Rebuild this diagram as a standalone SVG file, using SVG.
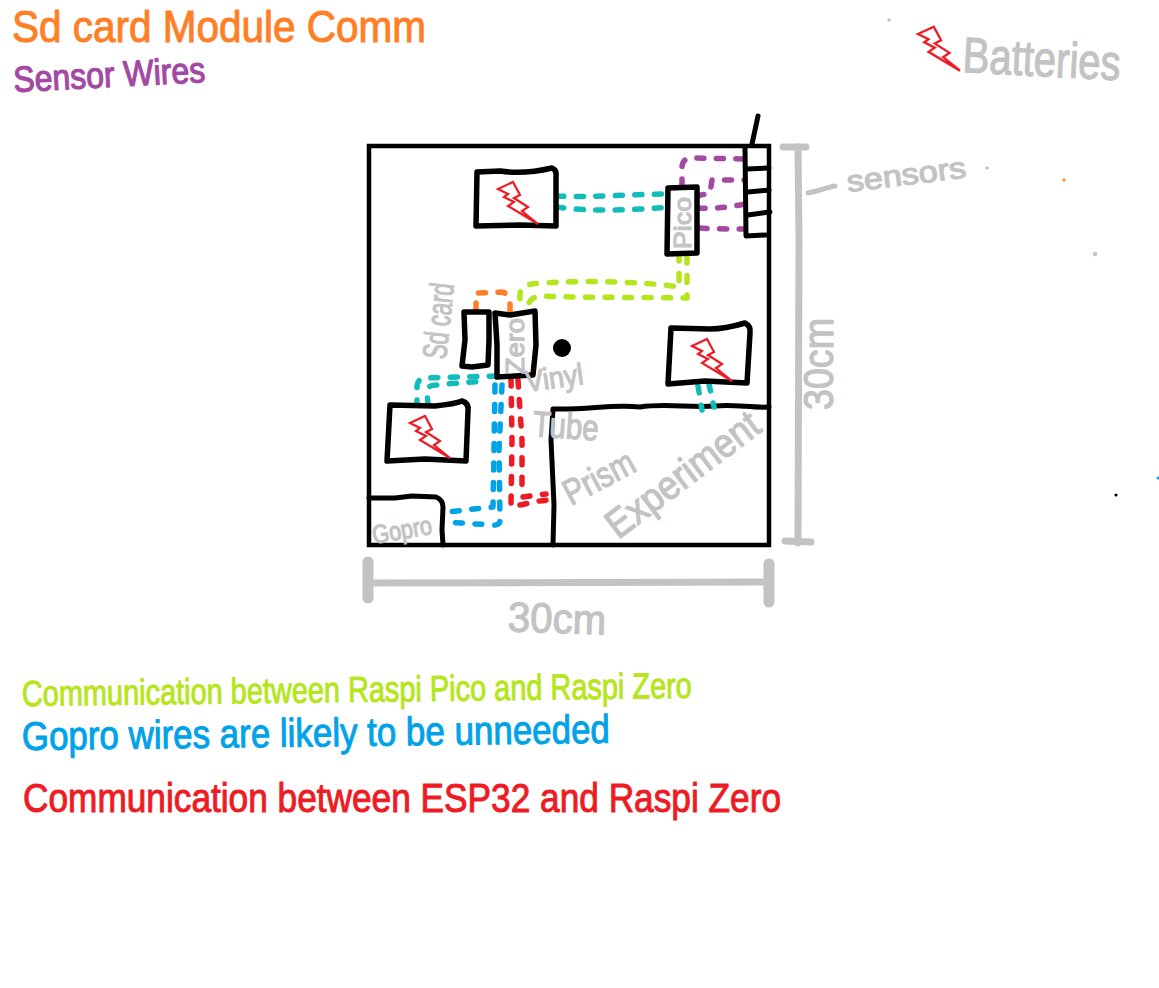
<svg xmlns="http://www.w3.org/2000/svg" xmlns:xlink="http://www.w3.org/1999/xlink" width="1159" height="988" viewBox="0 0 1159 988">
<style>
text{font-family:"Liberation Sans",Arial,sans-serif;stroke-linejoin:round;stroke-linecap:round}
.box{fill:#fff;stroke:#000;stroke-width:5.5;stroke-linejoin:round;stroke-linecap:round}
.wall{fill:none;stroke:#000;stroke-width:5;stroke-linejoin:round;stroke-linecap:round}
.bolt{fill:#fff;stroke:#ed1c24;stroke-width:2.2;stroke-linejoin:miter}
.w{fill:none;stroke-width:5.5;stroke-linecap:round;stroke-linejoin:round;stroke-dasharray:7 12.5}
.teal{stroke:#12bdb9}.purple{stroke:#a349a4}.lime{stroke:#b5e61d}.orange{stroke:#ff7f27}.blue{stroke:#00a2e8}.red{stroke:#ed1c24}
.dim{fill:none;stroke:#c3c3c3;stroke-width:7;stroke-linecap:round;stroke-linejoin:round}
.g{fill:#c3c3c3;stroke:#c3c3c3;stroke-width:1.2}
.to{fill:#ff7f27;stroke:#ff7f27;stroke-width:1}
.tp{fill:#a349a4;stroke:#a349a4;stroke-width:1.2}
.tl{fill:#b5e61d;stroke:#b5e61d;stroke-width:1}
.tb{fill:#00a2e8;stroke:#00a2e8;stroke-width:1}
.tr{fill:#ed1c24;stroke:#ed1c24;stroke-width:1}
</style>
<defs>
<polygon id="bolt" class="bolt" points="0,0 15,-7 22,6 16,9 30,18 24,22 40,35 10,17 16,13 6,8 10,5"/>
</defs>
<rect width="1159" height="988" fill="#fff"/>

<g id="enclosure">
<rect x="369" y="146" width="400" height="399" fill="#fff" stroke="#000" stroke-width="4.5"/>
<path class="wall" d="M553,545 L554,505 L551,440 L553,409 C590,410 610,404 640,407 C665,403 690,408 715,406 C735,404 750,408 769,407"/>
<path class="wall" d="M369,498 L395,498 L412,496 L436,497 Q443,500 443,507 L442,530 L443,545"/>
<path class="wall" d="M758,116 L752,144"/>
</g>

<g id="connectors">
<path class="w teal" d="M557,196 C590,198 630,194 672,194"/>
<path class="w teal" d="M557,207 C590,212 630,210 672,207"/>
<path class="w purple" d="M682,186 L682,168 Q682,158 692,158 L745,159"/>
<path class="w purple" d="M697,196 L710,193 L712,180 L745,180"/>
<path class="w purple" d="M698,208 C715,209 730,207 745,204"/>
<path class="w purple" d="M700,228 C715,229 730,229 743,229"/>
<path class="w lime" d="M679,254 L679,287 C640,281 570,280 532,284 Q520,286 520,295 L520,311"/>
<path class="w lime" d="M687,256 L687,298 C640,297 590,298 540,296 Q528,298 528,308 L528,313"/>
<path class="w orange" d="M476,310 L476,293 L502,292 Q510,294 510,304 L510,314"/>
<path class="w teal" d="M417,407 L417,386 Q418,378 426,378 L495,376"/>
<path class="w teal" d="M428,405 L427,391 Q428,385 436,385 C460,383 475,381 488,382"/>
<path class="w blue" d="M495,385 L494,450 L493,507 L447,512"/>
<path class="w blue" d="M502,385 L499,450 L500,520 Q500,526 492,525 L445,522"/>
<path class="w red" d="M511,379 L512,440 L511,505"/>
<path class="w red" d="M518,380 L522,440 L522,488"/>
<path class="w red" d="M520,505 C530,503 545,499 555,500"/>
<path class="w red" d="M523,497 L546,494"/>
<path class="w teal" d="M698,386 L702,410"/>
<path class="w teal" d="M709,384 L714,407"/>
</g>

<g id="battery-top"><path class="box" d="M477,172 L500,171 C520,174 535,172 552,168 Q557,170 556,176 L556,226 L520,225 L476,226 Z"/><use xlink:href="#bolt" href="#bolt" x="498" y="189"/></g>
<g id="battery-left"><path class="box" d="M390,405 L435,406 C445,405 455,404 462,401 Q469,403 468,411 L466,461 L425,459 L387,461 Z"/><use xlink:href="#bolt" href="#bolt" x="410" y="423"/></g>
<g id="battery-right"><path class="box" d="M671,328 L710,329 C725,329 735,326 745,323 Q751,326 750,333 L747,383 L705,381 L668,384 Z"/><use xlink:href="#bolt" href="#bolt" x="692" y="346"/></g>
<g id="sd-module"><path class="box" d="M464,312 L489,312 L489,340 L488,365 L472,367 L462,366 L465,340 Z"/></g>
<g id="raspi-zero"><path class="box" d="M495,313 L510,315 L535,311 L536,345 L533,375 L515,376 L497,377 L497,345 Z"/>
<text class="g" font-size="26" text-anchor="middle" textLength="56" lengthAdjust="spacingAndGlyphs" transform="translate(524,346) rotate(-90)">Zero</text></g>
<g id="raspi-pico"><path class="box" d="M668,188 L697,187 L697,253 L667,254 Z"/>
<text class="g" font-size="24" text-anchor="middle" textLength="52" lengthAdjust="spacingAndGlyphs" transform="translate(691,223) rotate(-90)">Pico</text></g>
<g id="sensors">
<path class="wall" d="M745,148 L746,236 L766,235"/>
<path class="wall" d="M747,169 L769,168 M748,192 L769,190 M748,215 L770,212"/>
</g>
<g id="black-dot"><circle cx="562" cy="348" r="9" fill="#000"/></g>

<g id="dimensions">
<path class="dim" d="M369,583 L770,582"/>
<path class="dim" style="stroke-width:11" d="M368,562 L368,598 M769,564 L769,602"/>
<path class="dim" d="M798,147 L799,240 L798,543"/>
<path class="dim" d="M783,147 L806,147 M785,541 L811,542"/>
<path class="dim" style="stroke-width:5" d="M808,193 C818,191 825,188 835,186"/>
</g>

<g id="labels">
<text class="g" font-size="42" x="508" y="633" textLength="98" lengthAdjust="spacingAndGlyphs" transform="rotate(2 557 620)">30cm</text>
<text class="g" font-size="42" text-anchor="middle" textLength="92" lengthAdjust="spacingAndGlyphs" transform="translate(833,364) rotate(-90)">30cm</text>
<text class="g" font-size="30" x="848" y="192" textLength="120" lengthAdjust="spacingAndGlyphs" transform="rotate(-7 848 192)">sensors</text>
<text class="g" font-size="50" x="962" y="72" textLength="158" lengthAdjust="spacingAndGlyphs" transform="rotate(3 962 72)">Batteries</text>
<text class="g" font-size="34" text-anchor="middle" textLength="76" lengthAdjust="spacingAndGlyphs" transform="translate(450,322) rotate(-84)">Sd card</text>
<text class="g" font-size="30" x="527" y="392" textLength="58" lengthAdjust="spacingAndGlyphs" transform="rotate(-8 527 392)">Vinyl</text>
<text class="g" font-size="36" x="532" y="436" textLength="66" lengthAdjust="spacingAndGlyphs" transform="rotate(4 532 436)">Tube</text>
<text class="g" font-size="36" x="571" y="506" textLength="76" lengthAdjust="spacingAndGlyphs" transform="rotate(-28 571 506)">Prism</text>
<text class="g" font-size="40" x="618" y="540" textLength="182" lengthAdjust="spacingAndGlyphs" transform="rotate(-37 618 540)">Experiment</text>
<text class="g" font-size="26" x="374" y="544" textLength="60" lengthAdjust="spacingAndGlyphs" transform="rotate(-10 374 544)">Gopro</text>
</g>

<g id="legend">
<text class="to" font-size="44" x="12" y="42" textLength="414" lengthAdjust="spacingAndGlyphs">Sd card Module Comm</text>
<text class="tp" font-size="36" x="14" y="92" textLength="192" lengthAdjust="spacingAndGlyphs" transform="rotate(-3 14 92)">Sensor Wires</text>
<use xlink:href="#bolt" href="#bolt" transform="translate(918,34) scale(1.05)"/>
<text class="tl" font-size="36" x="22" y="706" textLength="670" lengthAdjust="spacingAndGlyphs" transform="rotate(-.7 22 706)">Communication between Raspi Pico and Raspi Zero</text>
<text class="tb" font-size="40" x="22" y="750" textLength="588" lengthAdjust="spacingAndGlyphs" transform="rotate(-.7 22 750)">Gopro wires are likely to be unneeded</text>
<text class="tr" font-size="40" x="23" y="812" textLength="758" lengthAdjust="spacingAndGlyphs">Communication between ESP32 and Raspi Zero</text>
</g>

<g id="specks">
<circle cx="889" cy="20" r="1.8" fill="#c3c3c3"/><circle cx="987" cy="168" r="1.8" fill="#c3c3c3"/><circle cx="1095" cy="254" r="2.2" fill="#c3c3c3"/>
<circle cx="1064" cy="180" r="1.6" fill="#ff7f27"/><circle cx="1116" cy="495" r="1.6" fill="#000"/><circle cx="1158" cy="478" r="1.5" fill="#00a2e8"/>
</g>
</svg>
